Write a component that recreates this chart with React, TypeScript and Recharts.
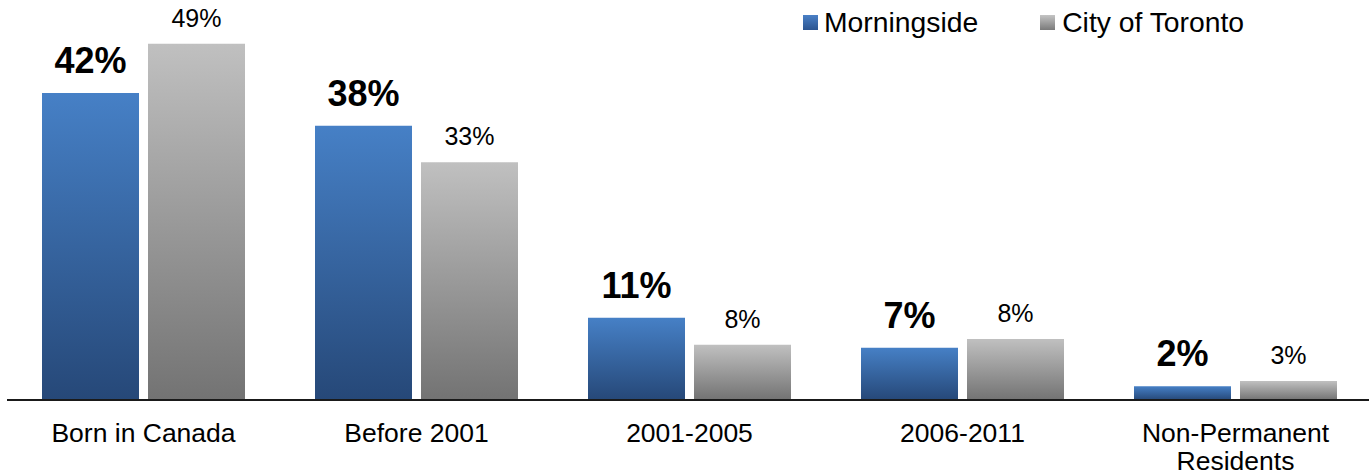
import React from "react";
import { BarChart, Bar, XAxis, YAxis, LabelList } from "recharts";

const categories = ["Born in Canada", "Before 2001", "2001-2005", "2006-2011", "Non-Permanent\nResidents"];
const morningside = [42.2, 37.7, 11.3, 7.2, 1.9];
const toronto = [49.0, 32.7, 7.6, 8.4, 2.6];
const seriesNames = ["Morningside", "City of Toronto"];

const data = categories.map((c, i) => ({ cat: c, m: morningside[i], t: toronto[i] }));

const FONT = "'Liberation Sans', Arial, sans-serif";

const Tick = (props: any) => {
  const { x, y, payload } = props;
  const lines = String(payload.value).split("\n");
  return (
    <g>
      {lines.map((l: string, i: number) => (
        <text key={i} x={x} y={y + 34 + i * 28} textAnchor="middle" fontFamily={FONT} fontSize={26.5} fill="#000">
          {l}
        </text>
      ))}
    </g>
  );
};

const makeLabel = (bold: boolean) => (props: any) => {
  const { x, y, width, value } = props;
  return (
    <text
      x={x + width / 2}
      y={y - (bold ? 20 : 17)}
      textAnchor="middle"
      fontFamily={FONT}
      fontSize={bold ? 36 : 25}
      fontWeight={bold ? "bold" : "normal"}
      fill="#000"
    >
      {Math.round(value) + "%"}
    </text>
  );
};

const LegendBox = () => (
  <div style={{ position: "absolute", top: 6, left: 803, display: "flex", alignItems: "center", fontFamily: FONT, fontSize: 28.3, color: "#000", whiteSpace: "nowrap" }}>
    <span style={{ display: "inline-block", width: 15, height: 15, background: "linear-gradient(#4a80c6, #2c5590)", marginRight: 6 }} />
    <span>{seriesNames[0]}</span>
    <span style={{ display: "inline-block", width: 15, height: 15, background: "linear-gradient(#c4c4c4, #7a7a7a)", marginLeft: 62, marginRight: 7 }} />
    <span>{seriesNames[1]}</span>
  </div>
);

export default function App() {
  return (
    <div style={{ position: "absolute", left: 0, top: 0, width: 1369, height: 476, overflow: "hidden", background: "#fff" }}>
      <BarChart width={1373} height={476} data={data} margin={{ top: 0, right: 1, left: 7, bottom: 0 }} barGap={9} barSize={97}>
        <defs>
          <linearGradient id="gBlue" x1="0" y1="0" x2="0" y2="1">
            <stop offset="0%" stopColor="#4680c6" />
            <stop offset="100%" stopColor="#264878" />
          </linearGradient>
          <linearGradient id="gGray" x1="0" y1="0" x2="0" y2="1">
            <stop offset="0%" stopColor="#c0c0c0" />
            <stop offset="100%" stopColor="#737373" />
          </linearGradient>
        </defs>
        <XAxis dataKey="cat" axisLine={{ stroke: "#1a1a1a", strokeWidth: 2 }} tickLine={false} tick={<Tick />} height={76} interval={0} />
        <YAxis hide type="number" domain={[0, 55]} tickCount={12} allowDataOverflow={true} />
        <Bar dataKey="m" name={seriesNames[0]} fill="url(#gBlue)" isAnimationActive={false}>
          <LabelList dataKey="m" content={makeLabel(true)} />
        </Bar>
        <Bar dataKey="t" name={seriesNames[1]} fill="url(#gGray)" isAnimationActive={false}>
          <LabelList dataKey="t" content={makeLabel(false)} />
        </Bar>
      </BarChart>
      <LegendBox />
    </div>
  );
}
